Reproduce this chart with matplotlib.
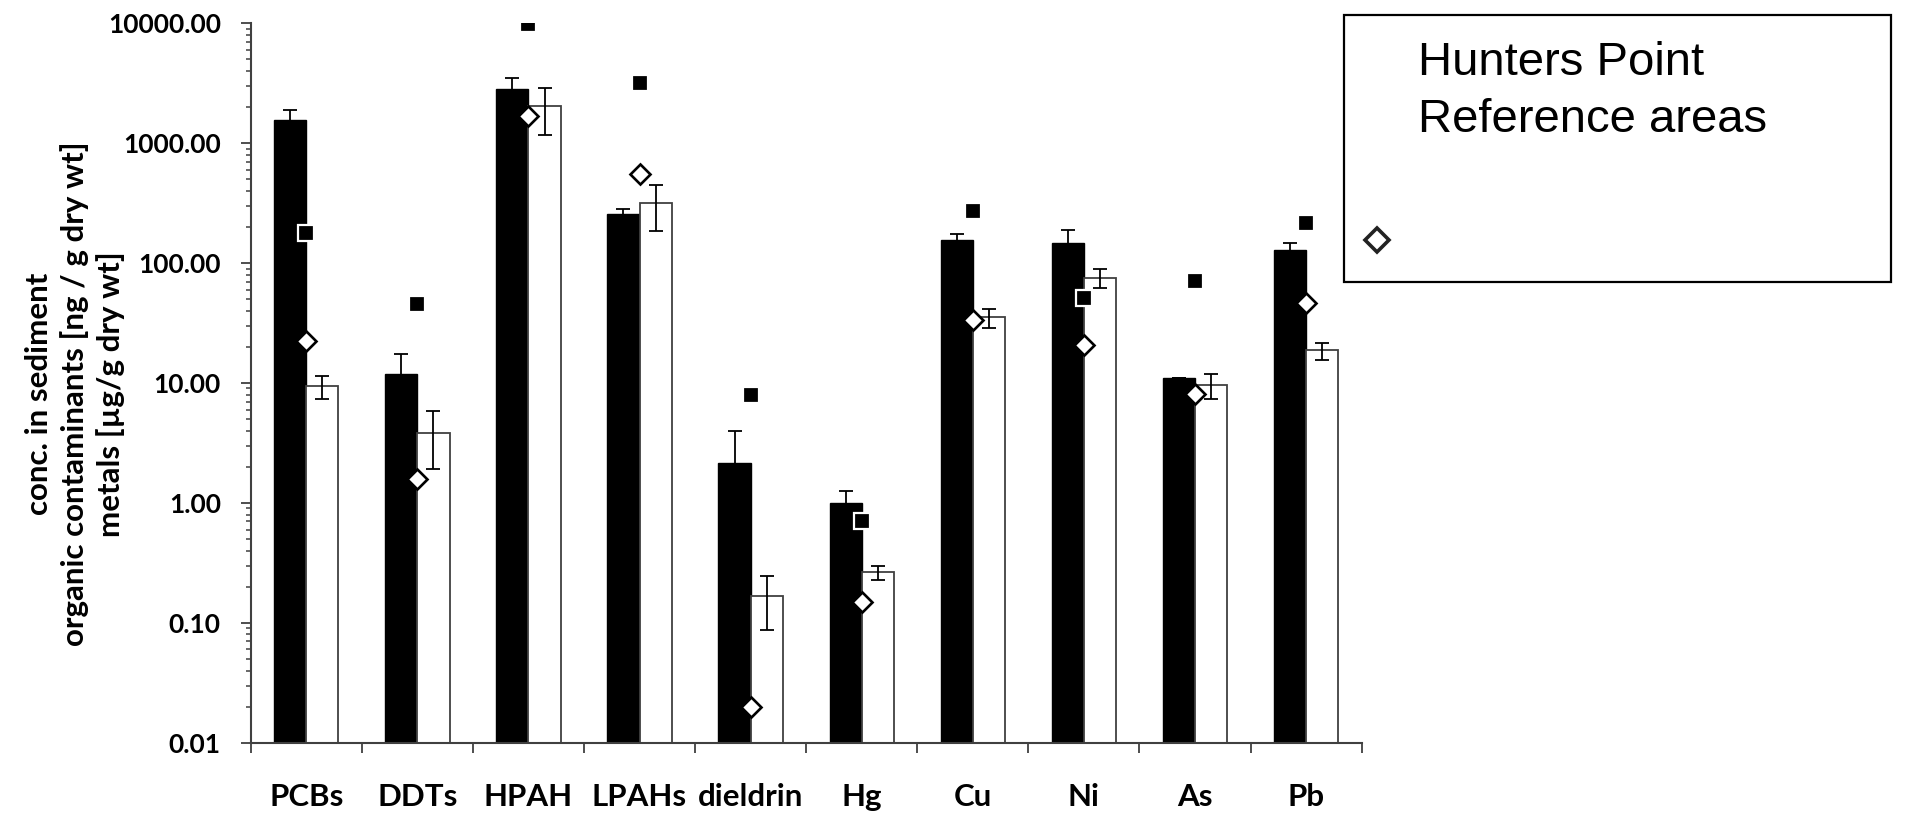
import matplotlib.pyplot as plt
import numpy as np
from matplotlib.patches import Rectangle
from matplotlib.lines import Line2D
from matplotlib.ticker import FixedLocator, NullFormatter, FormatStrFormatter, LogLocator

plt.rcParams['font.family'] = ['Lato', 'DejaVu Sans']

# hodnoty
categories = ['PCBs', 'DDTs', 'HPAH', 'LPAHs', 'dieldrin', 'Hg', 'Cu', 'Ni', 'As', 'Pb']

hp_mean = [1560, 12.0, 2830, 259, 2.17, 1.00, 155, 147, 11.1, 128]
hp_err = [330, 5.6, 660, 21, 1.8, 0.25, 21, 43, 0, 18]
ref_mean = [9.4, 3.85, 2040, 315, 0.166, 0.263, 35.2, 75, 9.6, 18.7]
ref_err = [2.1, 1.95, 860, 130, 0.079, 0.035, 6.3, 13.5, 2.2, 3.0]
hp_square = [180, 46, 9900, 3160, 8.0, 0.71, 273, 51, 70.6, 217]
ref_diamond = [22.4, 1.57, 1675, 550, 0.020, 0.149, 33.8, 20.7, 8.05, 46.7]

axis_col = '#404040'

fig = plt.figure(figsize=(19.05, 8.15), dpi=100)
ax = fig.add_axes([0.1316, 0.0887, 0.5832, 0.8827])

x = np.arange(len(categories))
w = 0.29

ax.bar(x - w / 2, hp_mean, width=w, color='black', edgecolor='black', linewidth=1.0, zorder=2)
ax.bar(x + w / 2, ref_mean, width=w, color='white', edgecolor=axis_col, linewidth=1.3, zorder=2)

ax.errorbar(x - w / 2, hp_mean, yerr=hp_err, fmt='none', ecolor='black',
            elinewidth=1.3, capsize=5, capthick=1.3, zorder=3)
ax.errorbar(x + w / 2, ref_mean, yerr=ref_err, fmt='none', ecolor='black',
            elinewidth=1.3, capsize=5, capthick=1.3, zorder=3)

ax.plot(x, hp_square, linestyle='none', marker='s', markersize=11,
        markerfacecolor='black', markeredgecolor='white', markeredgewidth=1.6, zorder=4)
ax.plot(x, ref_diamond, linestyle='none', marker='D', markersize=10.5,
        markerfacecolor='white', markeredgecolor='black', markeredgewidth=1.9, zorder=4)

# osa y - logaritmická
ax.set_yscale('log')
ax.set_ylim(0.01, 10000)
ax.yaxis.set_major_locator(LogLocator(base=10, numticks=10))
ax.yaxis.set_minor_locator(LogLocator(base=10, subs=np.arange(2, 10), numticks=20))
ax.yaxis.set_major_formatter(FormatStrFormatter('%.2f'))
ax.yaxis.set_minor_formatter(NullFormatter())
ax.tick_params(axis='y', which='major', direction='out', length=7.5, width=1.3,
               color=axis_col, pad=14, labelsize=19)
ax.tick_params(axis='y', which='minor', direction='out', length=3.8, width=1.1,
               color=axis_col, labelleft=False)
for lab in ax.get_yticklabels():
    lab.set_fontweight('bold')

# osa x - čárky na hranicích kategorií, popisky uprostřed
ax.set_xlim(-0.5, len(categories) - 0.5)
ax.xaxis.set_major_locator(FixedLocator(np.arange(len(categories) + 1) - 0.5))
ax.xaxis.set_major_formatter(NullFormatter())
ax.xaxis.set_minor_locator(FixedLocator(x))
ax.set_xticklabels(categories, minor=True, fontsize=22.5, fontweight='bold')
ax.tick_params(axis='x', which='major', direction='out', length=7.5, width=1.3,
               color=axis_col, labelbottom=False)
ax.tick_params(axis='x', which='minor', length=0, pad=29, labelbottom=True)

for side in ['top', 'right']:
    ax.spines[side].set_visible(False)
for side in ['left', 'bottom']:
    ax.spines[side].set_color(axis_col)
    ax.spines[side].set_linewidth(1.5)

fig.text(0.0394, 0.5165, 'conc. in sediment\norganic contaminants [ng / g dry wt]\nmetals [µg/g dry wt]',
         rotation=90, ha='center', va='center', multialignment='center',
         fontsize=22.5, fontweight='bold', linespacing=1.3)

# legenda - rámeček s textem a kosočtvercem
W, H = 1905, 815
fig.patches.append(Rectangle((1343.5 / W, 1 - 282 / H), (1891 - 1343.5) / W, (282 - 14.6) / H,
                             transform=fig.transFigure, fill=False, edgecolor='black',
                             linewidth=1.6, zorder=5))
fig.text(1418 / W, 1 - 75 / H, 'Hunters Point', fontsize=34, family='Liberation Sans',
         ha='left', va='baseline')
fig.text(1418 / W, 1 - 132 / H, 'Reference areas', fontsize=34, family='Liberation Sans',
         ha='left', va='baseline')
fig.lines.append(Line2D([1377 / W], [1 - 240 / H], transform=fig.transFigure, marker='D',
                        markersize=12, markerfacecolor='white', markeredgecolor='#222222',
                        markeredgewidth=2.6, linestyle='none'))

fig.savefig('out.png', dpi=100)
